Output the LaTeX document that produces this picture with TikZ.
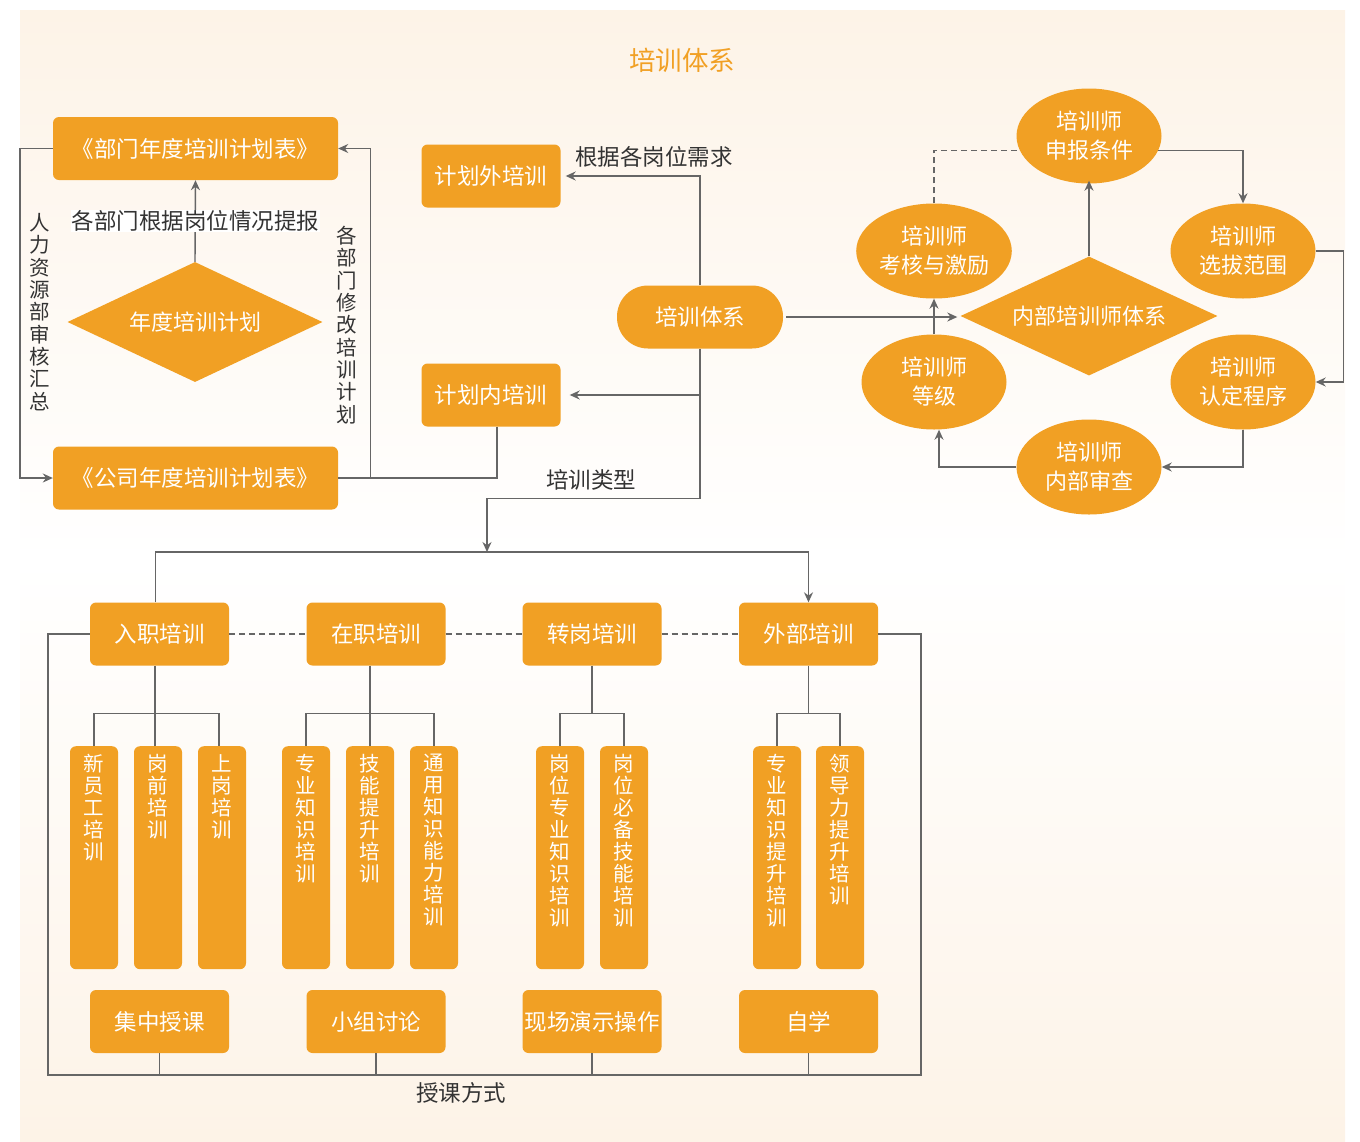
\documentclass[tikz,border=0pt]{standalone}
\usepackage{fontspec}
\setmainfont{Noto Sans CJK SC}
\usetikzlibrary{arrows.meta, positioning, shapes.geometric}

\definecolor{orng}{HTML}{F1A024}
\definecolor{lgray}{HTML}{666666}
\definecolor{txt}{HTML}{333333}
\definecolor{bgedge}{HTML}{FDF3E7}
\definecolor{bgmid}{HTML}{FFFFFF}

\begin{document}
\begin{tikzpicture}[x=1pt, y=-1pt,
    box/.style={fill=orng, rounded corners=6pt, text=white, minimum width=139pt, minimum height=63pt,
        inner sep=0pt, font=\fontsize{22.5}{25}\selectfont},
    widebox/.style={box, minimum width=285pt},
    tallbox/.style={fill=orng, rounded corners=6pt, minimum width=48pt, minimum height=223pt, anchor=north},
    vtxt/.style={text=white, align=center, inner sep=0pt, font=\fontsize{20.5}{22}\selectfont},
    dia/.style={diamond, fill=orng, text=white, inner sep=0pt, font=\fontsize{22}{24}\selectfont},
    ell/.style={ellipse, fill=orng, text=white, minimum width=145pt, minimum height=95pt, inner sep=0pt,
        align=center, font=\fontsize{22}{29}\selectfont},
    conn/.style={draw=lgray, line width=1.4pt},
    arr/.style={conn, -{Stealth[length=10pt, width=9pt]}},
    dshline/.style={conn, dash pattern=on 6pt off 4pt},
    lbl/.style={text=txt, inner sep=1pt, font=\fontsize{22.5}{24}\selectfont},
    vlbl/.style={lbl, align=center, font=\fontsize{20.5}{22.3}\selectfont}]
    \useasboundingbox (0,0) rectangle (1360,1141);
    \shade[top color=bgedge, bottom color=bgmid] (20,10) rectangle (1345,560);
    \shade[top color=bgmid, bottom color=bgedge] (20,560) rectangle (1345,1141);

    \node[text=orng, font=\fontsize{26.5}{28}\selectfont] (title) at (682,60) {培训体系};

    % annual plan
    \node[widebox] (bm) at (195.5,148.5) {《部门年度培训计划表》};
    \node[widebox] (gs) at (195.5,478) {《公司年度培训计划表》};
    \node[dia, aspect=2.12, minimum width=255pt, minimum height=120pt] (nd) at (195,322) {年度培训计划};
    \draw[arr] (nd.north) -- node[lbl, fill=bgmid] (tb) {各部门根据岗位情况提报} (bm.south);
    \draw[arr] (bm.west) -- ++(-33,0) |- (gs.west);
    \draw[arr] ([xshift=32pt]gs.east) |- (bm.east);
    \node[vlbl] (hr) at (40,312) {人\\力\\资\\源\\部\\审\\核\\汇\\总};
    \node[vlbl] (xg) at (347,325) {各\\部\\门\\修\\改\\培\\训\\计\\划};

    \node[box] (jhw) at (491,176) {计划外培训};
    \node[box] (jhn) at (491,395) {计划内培训};
    \node[box, minimum width=166pt, rounded corners=31pt] (px) at (700,317) {培训体系};
    \draw[arr] (px.north) |- ([xshift=5pt]jhw.east);
    \node[lbl] (xq) at (654,157) {根据各岗位需求};
    \draw[arr] (px.south |- jhn.east) -- ([xshift=9pt]jhn.east);
    \draw[conn] ([xshift=6pt]jhn.south) |- (gs.east);

    % internal trainers
    \node[dia, aspect=2.16, minimum width=257pt, minimum height=119pt] (nb) at (1089,316) {内部培训师体系};
    \node[ell] (e1) at (1089,136) {培训师\\申报条件};
    \node[ell] (e2) at (1243,251) {培训师\\选拔范围};
    \node[ell] (e3) at (1243,382) {培训师\\认定程序};
    \node[ell] (e4) at (1089,467) {培训师\\内部审查};
    \node[ell] (e5) at (934,382) {培训师\\等级};
    \node[ell] (e6) at (934,251) {培训师\\考核与激励};
    \draw[arr] ([xshift=3pt]px.east) -- ([xshift=-3pt]px.east -| nb.west);
    \draw[arr] (nb.north) -- ([yshift=3pt]e1.south);
    \draw[arr] (e1.-12) -| (e2.north);
    \draw[arr] (e2.east) -- ++(28,0) |- (e3.east);
    \draw[arr] (e3.south) |- (e4.east);
    \draw[arr] (e4.west) -| ([xshift=5pt]e5.south);
    \draw[arr] (e5.north) -- (e6.south);
    \draw[dshline] (e6.north) |- (e1.192);

    % training types
    \node[box] (rz) at (159.5,634) {入职培训};
    \node[box] (zz) at (376,634) {在职培训};
    \node[box] (zg) at (592,634) {转岗培训};
    \node[box] (wb) at (808.5,634) {外部培训};
    \draw[dshline] (rz) -- (zz) (zz) -- (zg) (zg) -- (wb);
    \coordinate (bus) at (487,552);
    \draw[arr] (px.south) -- ++(0,149.5) -| (bus);
    \node[lbl] (lx) at (591,480) {培训类型};
    \draw[arr] ([xshift=-4pt]rz.north) |- (bus) -| (wb.north);

    \foreach \n/\x/\t in {t11/94/{新\\员\\工\\培\\训}, t12/158/{岗\\前\\培\\训}, t13/222/{上\\岗\\培\\训},
        t21/306/{专\\业\\知\\识\\培\\训}, t22/370/{技\\能\\提\\升\\培\\训}, t23/434/{通\\用\\知\\识\\能\\力\\培\\训},
        t31/560/{岗\\位\\专\\业\\知\\识\\培\\训}, t32/624/{岗\\位\\必\\备\\技\\能\\培\\训},
        t41/777/{专\\业\\知\\识\\提\\升\\培\\训}, t42/840/{领\\导\\力\\提\\升\\培\\训}} {
        \node[tallbox] (\n) at (\x,746) {};
        \node[vtxt, below=8pt of \n.north] (\n-t) {\t};
    }
    \draw[conn] ([xshift=-3pt]t12.north |- rz.south) -- ++(0,48) coordinate (j1);
    \draw[conn] (t11.north) |- (j1) -| ([xshift=-3pt]t13.north) ([xshift=-3pt]t12.north) -- (j1);
    \draw[conn] (t22.north |- zz.south) -- ++(0,48) coordinate (j2);
    \draw[conn] (t21.north) |- (j2) -| (t23.north) (t22.north) -- (j2);
    \draw[conn] (zg.south) -- ++(0,48) coordinate (j3);
    \draw[conn] (t31.north) |- (j3) -| (t32.north);
    \draw[conn] (wb.south) -- ++(0,48) coordinate (j4);
    \draw[conn] (t41.north) |- (j4) -| (t42.north);

    % teaching methods
    \node[box] (m1) at (159.5,1021.5) {集中授课};
    \node[box] (m2) at (376,1021.5) {小组讨论};
    \node[box] (m3) at (592,1021.5) {现场演示操作};
    \node[box] (m4) at (808.5,1021.5) {自学};
    \coordinate (fl) at (48,1075);
    \coordinate (fr) at (921,1075);
    \draw[conn] (rz.west) -| (fl) -- (fr) |- (wb.east);
    \foreach \m in {m1,m2,m3,m4}
        \draw[conn] (\m.south) -- (\m.south |- fl);
    \node[lbl] (fs) at (461,1093) {授课方式};
\end{tikzpicture}
\end{document}
